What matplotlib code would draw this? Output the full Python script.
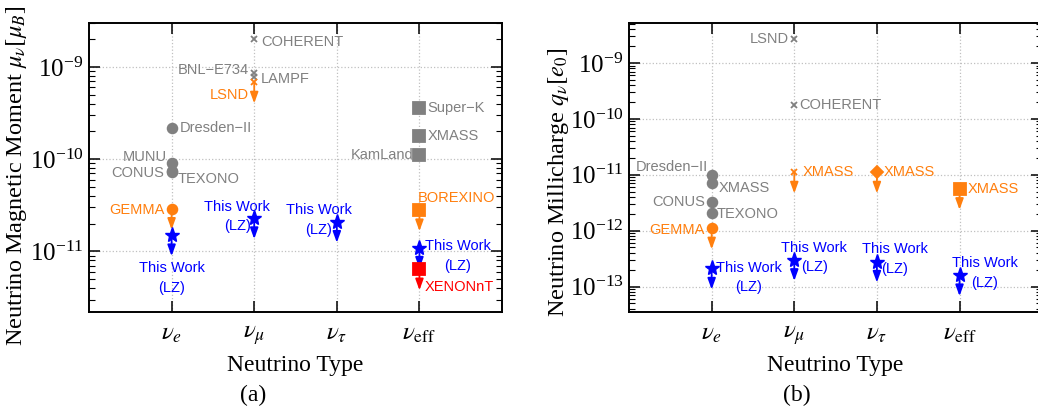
import numpy as np
import matplotlib
matplotlib.use('Agg')
import matplotlib.pyplot as plt
from matplotlib.ticker import NullLocator

plt.rcParams['font.family'] = 'serif'
plt.rcParams['font.serif'] = ['Liberation Serif', 'DejaVu Serif']
plt.rcParams['mathtext.fontset'] = 'stix'

# ---- data -------------------------------------------------------------
type_labels = [r'$\nu_e$', r'$\nu_\mu$', r'$\nu_\tau$', r'$\nu_{\rm eff}$']
type_pos = [1, 2, 3, 4]

# (a) magnetic moment [mu_B]
mm_accel_names = ['COHERENT', 'BNL−E734', 'LAMPF']
mm_accel_type = [2, 2, 2]
mm_accel_vals = [2.0e-9, 8.5e-10, 7.8e-10]

mm_reactor_names = ['Dresden−II', 'MUNU', 'CONUS', 'TEXONO']
mm_reactor_type = [1, 1, 1, 1]
mm_reactor_vals = [2.2e-10, 9.0e-11, 7.5e-11, 7.3e-11]

mm_solar_names = ['Super−K', 'XMASS', 'KamLand']
mm_solar_type = [4, 4, 4]
mm_solar_vals = [3.6e-10, 1.8e-10, 1.1e-10]

mm_limit_names = ['LSND', 'GEMMA', 'BOREXINO']
mm_limit_type = [2, 1, 4]
mm_limit_vals = [6.8e-10, 2.9e-11, 2.8e-11]

mm_xenon_names = ['XENONnT']
mm_xenon_type = [4]
mm_xenon_vals = [6.4e-12]

mm_lz_vals = [1.5e-11, 2.3e-11, 2.1e-11, 1.1e-11]

# (b) millicharge [e_0]
mc_accel_names = ['LSND', 'COHERENT']
mc_accel_type = [2, 2]
mc_accel_vals = [2.7e-9, 1.8e-10]

mc_reactor_names = ['Dresden−II', 'XMASS', 'CONUS', 'TEXONO']
mc_reactor_type = [1, 1, 1, 1]
mc_reactor_vals = [1.0e-11, 7.2e-12, 3.3e-12, 2.1e-12]

mc_limit_names = ['GEMMA', 'XMASS', 'XMASS', 'XMASS']
mc_limit_type = [1, 2, 3, 4]
mc_limit_vals = [1.1e-12, 1.1e-11, 1.1e-11, 5.6e-12]

mc_lz_vals = [2.1e-13, 3.0e-13, 2.8e-13, 1.6e-13]

# ---- styling ----------------------------------------------------------
GRAY = '#808080'
ORANGE = '#ff7f0e'
BLUE = '#0000ff'
RED = '#ff0000'
LABEL_FONT = dict(family='Liberation Sans', fontsize=10.5)
ARROW_LEN = 21  # pixels


def limit_arrow(ax, x, y, color):
    ax.annotate('', xy=(x, y), xytext=(0, -ARROW_LEN), textcoords='offset pixels',
                arrowprops=dict(arrowstyle='<|-,head_length=0.55,head_width=0.2',
                                color=color, lw=1.3, shrinkA=0, shrinkB=0,
                                mutation_scale=12),
                zorder=3)


def label(ax, x, y, text, color, off):
    dx, dy, ha = off
    ax.annotate(text, xy=(x, y), xytext=(dx, dy), textcoords='offset pixels',
                ha=ha, va='center', color=color, linespacing=1.5,
                multialignment='center', **LABEL_FONT)


def group(ax, xs, ys, names, color, markers, ms, offsets, arrow=False):
    for i, (x, y) in enumerate(zip(xs, ys)):
        if arrow:
            limit_arrow(ax, x, y, color)
        ax.plot(x, y, ls='none', marker=markers[i], color=color, ms=ms[i],
                mew=1.3, zorder=4)
        label(ax, x, y, names[i], color, offsets[i])


def lz(ax, ys, offsets):
    for i, (x, y) in enumerate(zip(type_pos, ys)):
        limit_arrow(ax, x, y, BLUE)
        ax.plot(x, y, ls='none', marker='*', color=BLUE, ms=11, zorder=4)
        label(ax, x, y, 'This Work\n(LZ)', BLUE, offsets[i])


def style_axes(ax, ylim, ylabel, label_xy):
    ax.set_yscale('log')
    ax.set_xlim(0, 5)
    ax.set_ylim(*ylim)
    ax.set_xticks(type_pos)
    ax.set_xticklabels(type_labels, fontsize=17)
    ax.xaxis.set_minor_locator(NullLocator())
    ax.tick_params(which='both', direction='in', top=True, right=True)
    ax.tick_params(which='major', length=8, width=1.1, labelsize=18, pad=8)
    ax.tick_params(axis='y', which='major', pad=4)
    ax.tick_params(which='minor', length=4, width=0.8)
    ax.grid(True, which='major', ls=':', color='#c0c0c0', lw=0.9)
    for s in ax.spines.values():
        s.set_linewidth(1.4)
    ax.set_xlabel('Neutrino Type', fontsize=17, labelpad=6)
    ax.set_ylabel(ylabel, fontsize=17.5)
    ax.yaxis.set_label_coords(*label_xy, transform=fig.transFigure)


fig = plt.figure(figsize=(10.38, 4.13), dpi=100)
ax1 = fig.add_axes([0.0857, 0.2446, 0.398, 0.6998])
ax2 = fig.add_axes([0.606, 0.2446, 0.398, 0.6998])

# panel (a)
group(ax1, mm_accel_type, mm_accel_vals, mm_accel_names, GRAY,
      ['x', 'x', 'x'], [5, 5, 5],
      [(7, -3, 'left'), (-5, 3, 'right'), (7, -2, 'left')])
group(ax1, mm_reactor_type, mm_reactor_vals, mm_reactor_names, GRAY,
      ['o'] * 4, [7] * 4,
      [(8, 0, 'left'), (-5, 6, 'right'), (-7, -2, 'right'), (6, -7, 'left')])
group(ax1, mm_solar_type, mm_solar_vals, mm_solar_names, GRAY,
      ['s'] * 3, [8] * 3,
      [(8, 0, 'left'), (8, 0, 'left'), (-6, 0, 'right')])
group(ax1, mm_limit_type, mm_limit_vals, mm_limit_names, ORANGE,
      ['x', 'o', 's'], [5, 7, 8],
      [(-5, -13, 'right'), (-7, -1, 'right'), (-2, 12, 'left')], arrow=True)
group(ax1, mm_xenon_type, mm_xenon_vals, mm_xenon_names, RED,
      ['s'], [8], [(5, -18, 'left')], arrow=True)
lz(ax1, mm_lz_vals, [(0, -43, 'center'), (-17, 1.5, 'center'),
                     (-18, 1.5, 'center'), (38, -8.5, 'center')])
style_axes(ax1, (2.2e-12, 3e-9), r'Neutrino Magnetic Moment $\mu_\nu[\mu_B]$',
           (29 / 1038, 1 - 176 / 413))

# panel (b)
group(ax2, mc_accel_type, mc_accel_vals, mc_accel_names, GRAY,
      ['x', 'x'], [5, 5], [(-5, 0, 'right'), (5, 0, 'left')])
group(ax2, mc_reactor_type, mc_reactor_vals, mc_reactor_names, GRAY,
      ['o'] * 4, [7] * 4,
      [(-4, 8, 'right'), (7, -5, 'left'), (-7, 0, 'right'), (5, -1, 'left')])
group(ax2, mc_limit_type, mc_limit_vals, mc_limit_names, ORANGE,
      ['o', 'x', 'D', 's'], [7, 5, 6, 8],
      [(-7, -2, 'right'), (8, 0, 'left'), (7, 0, 'left'), (8, 0, 'left')],
      arrow=True)
lz(ax2, mc_lz_vals, [(37, -9, 'center'), (20, 2.5, 'center'),
                     (18, 2.5, 'center'), (25, 2, 'center')])
style_axes(ax2, (3.5e-14, 5.2e-9), r'Neutrino Millicharge $q_\nu[e_0]$',
           (571 / 1038, 1 - 182 / 413))

fig.text(253 / 1038, 1 - 395 / 413, '(a)', ha='center', va='center', fontsize=17)
fig.text(797 / 1038, 1 - 395 / 413, '(b)', ha='center', va='center', fontsize=17)

fig.savefig('out.png', dpi=100)
